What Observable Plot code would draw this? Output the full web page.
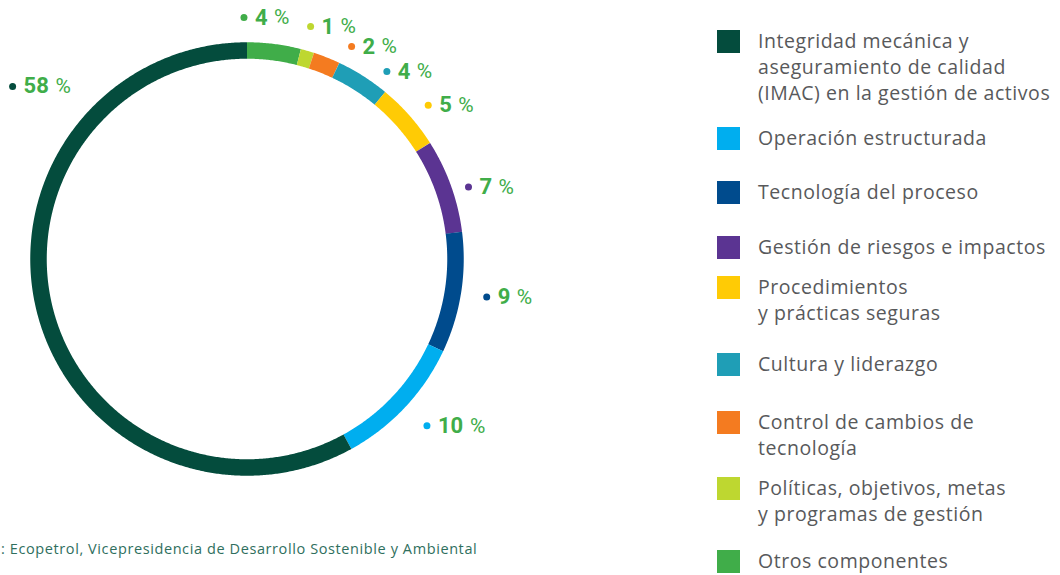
<!DOCTYPE html>
<html><head><meta charset="utf-8">
<script src="https://cdn.jsdelivr.net/npm/d3@7"></script>
<script src="https://cdn.jsdelivr.net/npm/@observablehq/plot@0.6"></script>
<style>
body{margin:0;background:#fff;}
#wrap{position:relative;width:1060px;height:575px;overflow:hidden;font-family:"Open Sans",sans-serif;}
#chart{position:absolute;left:0;top:0;}
#caption{position:absolute;left:1px;top:539px;font-size:14.5px;letter-spacing:0.6px;color:#2f6f5e;white-space:nowrap;}
#legend{position:absolute;left:717px;top:0;}
.item{position:absolute;left:0;display:flex;align-items:flex-start;}
.sw{width:23px;height:23px;flex:none;}
.lab{margin-left:18px;font-size:19.5px;letter-spacing:0.55px;line-height:26px;color:#58595b;white-space:pre;margin-top:-2px;}
</style></head>
<body><div id="wrap"><div id="chart"></div><div id="legend"></div><div id="caption"></div></div>
<script>
// Ring order, clockwise from 12 o'clock
const categories = ["Otros componentes","Políticas, objetivos, metas y programas de gestión","Control de cambios de tecnología","Cultura y liderazgo","Procedimientos y prácticas seguras","Gestión de riesgos e impactos","Tecnología del proceso","Operación estructurada","Integridad mecánica y aseguramiento de calidad (IMAC) en la gestión de activos"];
const values = [4, 1, 2, 4, 5, 7, 9, 10, 58];
const colors = ["#40ad49","#bed730","#f47b20","#1f9eb6","#ffcb05","#5b3492","#004b8d","#00aeef","#044c3d"];
// Legend order and displayed (wrapped) labels
const legendOrder = [8, 7, 6, 5, 4, 3, 2, 1, 0];
const legendLabels = ["Integridad mecánica y\naseguramiento de calidad\n(IMAC) en la gestión de activos","Operación estructurada","Tecnología del proceso","Gestión de riesgos e impactos","Procedimientos\ny prácticas seguras","Cultura y liderazgo","Control de cambios de\ntecnología","Políticas, objetivos, metas\ny programas de gestión","Otros componentes"];
const caption = ": Ecopetrol, Vicepresidencia de Desarrollo Sostenible y Ambiental";
// Label placement (shift along ring in % points, distance in ring radii)
const labelShift = [-2.2, -0.25, 1.28, 1.2, 0.3, 0.5, 0, -0.1, 14.1];
const labelDist = [1.158, 1.156, 1.136, 1.122, 1.140, 1.117, 1.164, 1.177, 1.396];

const W = 700, H = 530, R = 208.5, cx = 246.5, cy = 258.5;
const total = d3.sum(values);
let acc = 0;
const segs = categories.map((c, i) => { const s = acc; acc += values[i]; return {c, v: values[i], start: s, end: acc, i}; });
const ang = p => p / total * 2 * Math.PI;
const ring = segs.flatMap(s => {
  const n = Math.max(3, Math.ceil((s.end - s.start) * 3.6 / 0.4) + 1);
  return d3.range(n).map(k => { const a = ang(s.start + (s.end - s.start) * k / (n - 1)); return {c: s.c, x: Math.sin(a), y: Math.cos(a)}; });
});
const labels = segs.map((s, i) => {
  const a = ang((s.start + s.end) / 2 + labelShift[i]);
  return {c: s.c, v: s.v, x: labelDist[i] * Math.sin(a), y: labelDist[i] * Math.cos(a)};
});
const numStyle = {fill: "#40ad49", fontWeight: "bold", fontSize: 22, fontFamily: "Roboto", textAnchor: "start"};
const pctStyle = {fill: "#40ad49", fontWeight: "normal", fontSize: 21, fontFamily: "Roboto", textAnchor: "start"};
const chart = Plot.plot({
  width: W, height: H, margin: 0,
  x: {domain: [-cx / R, (W - cx) / R], range: [0, W], axis: null},
  y: {domain: [-(H - cy) / R, cy / R], range: [H, 0], axis: null},
  color: {domain: categories, range: colors},
  marks: [
    Plot.line(ring, {x: "x", y: "y", z: "c", stroke: "c", strokeWidth: 16.5, strokeLinecap: "butt", strokeLinejoin: "round"}),
    Plot.dot(labels, {x: "x", y: "y", r: 3.5, fill: "c"}),
    Plot.text(labels, {x: "x", y: "y", text: d => String(d.v), dx: 11, ...numStyle}),
    Plot.text(labels.filter(d => String(d.v).length === 1), {x: "x", y: "y", text: () => "%", dx: 30, ...pctStyle}),
    Plot.text(labels.filter(d => String(d.v).length === 2), {x: "x", y: "y", text: () => "%", dx: 43, ...pctStyle})
  ]
});
document.getElementById("chart").appendChild(chart);

const tops = [30, 127, 181, 236, 276, 353, 411, 477, 550];
const leg = document.getElementById("legend");
legendOrder.forEach((ci, k) => {
  const it = document.createElement("div"); it.className = "item"; it.style.top = tops[k] + "px";
  const sw = document.createElement("div"); sw.className = "sw"; sw.style.background = colors[ci];
  const lb = document.createElement("div"); lb.className = "lab"; lb.textContent = legendLabels[k];
  it.appendChild(sw); it.appendChild(lb); leg.appendChild(it);
});
document.getElementById("caption").textContent = caption;
</script>
</body></html>
